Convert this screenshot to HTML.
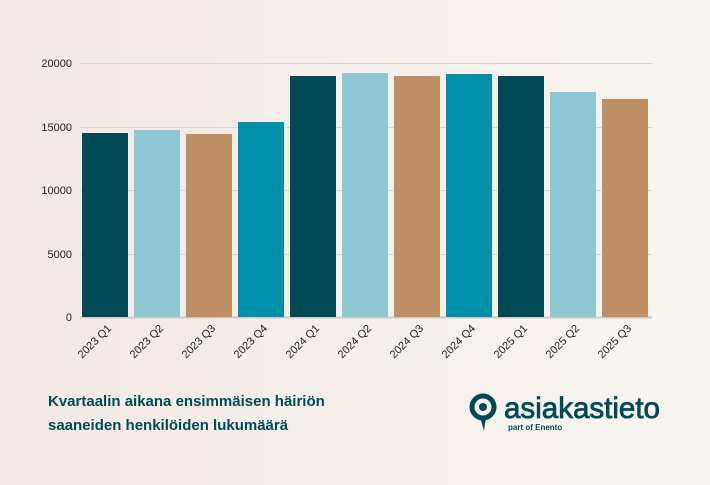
<!DOCTYPE html>
<html><head><meta charset="utf-8"><style>
body{margin:0;width:710px;height:480px;overflow:hidden;background:linear-gradient(90deg,#f4e9e5,#f8f5f1);font-family:"Liberation Sans",sans-serif}
</style></head><body>
<svg width="710" height="480" xmlns="http://www.w3.org/2000/svg" font-family="Liberation Sans, sans-serif">
<g stroke="#dcd6d2" stroke-width="1">
<line x1="80" x2="652" y1="63.5" y2="63.5"/><line x1="80" x2="652" y1="127.5" y2="127.5"/>
<line x1="80" x2="652" y1="190.5" y2="190.5"/><line x1="80" x2="652" y1="254.5" y2="254.5"/>
<line x1="80" x2="652" y1="317.5" y2="317.5" stroke="#cfc9c5" stroke-width="2"/>
</g>
<g font-size="11" fill="#222" text-anchor="end">
<text x="72" y="67">20000</text><text x="72" y="131">15000</text><text x="72" y="194">10000</text>
<text x="72" y="258">5000</text><text x="72" y="321">0</text>
</g>
<g>
<rect x="82" y="133" width="46" height="184" fill="#004a57"/>
<rect x="134" y="130" width="46" height="187" fill="#8fc8d5"/>
<rect x="186" y="134" width="46" height="183" fill="#be8f64"/>
<rect x="238" y="122" width="46" height="195" fill="#0090aa"/>
<rect x="290" y="76" width="46" height="241" fill="#004a57"/>
<rect x="342" y="73" width="46" height="244" fill="#8fc8d5"/>
<rect x="394" y="76" width="46" height="241" fill="#be8f64"/>
<rect x="446" y="74" width="46" height="243" fill="#0090aa"/>
<rect x="498" y="76" width="46" height="241" fill="#004a57"/>
<rect x="550" y="92" width="46" height="225" fill="#8fc8d5"/>
<rect x="602" y="99" width="46" height="218" fill="#be8f64"/>
</g>
<g font-size="11" fill="#222" text-anchor="end">
<text transform="translate(112,329) rotate(-45)">2023 Q1</text>
<text transform="translate(164,329) rotate(-45)">2023 Q2</text>
<text transform="translate(216,329) rotate(-45)">2023 Q3</text>
<text transform="translate(268,329) rotate(-45)">2023 Q4</text>
<text transform="translate(320,329) rotate(-45)">2024 Q1</text>
<text transform="translate(372,329) rotate(-45)">2024 Q2</text>
<text transform="translate(424,329) rotate(-45)">2024 Q3</text>
<text transform="translate(476,329) rotate(-45)">2024 Q4</text>
<text transform="translate(528,329) rotate(-45)">2025 Q1</text>
<text transform="translate(580,329) rotate(-45)">2025 Q2</text>
<text transform="translate(632,329) rotate(-45)">2025 Q3</text>
</g>
<g font-size="15" font-weight="bold" fill="#004a57">
<text x="48" y="406">Kvartaalin aikana ensimmäisen häiriön</text>
<text x="48" y="430">saaneiden henkilöiden lukumäärä</text>
</g>
<g fill="#004a57">
<circle cx="483" cy="407" r="11" fill="none" stroke="#004a57" stroke-width="5"/>
<circle cx="483" cy="407" r="4"/>
<path d="M480 417 L486 417 L484 431 Z"/>
<text x="504" y="418" font-size="30" stroke="#004a57" stroke-width="0.8" textLength="156" lengthAdjust="spacingAndGlyphs">asiakastieto</text>
<text x="508" y="430" font-size="8" font-weight="bold">part of Enento</text>
</g>
</svg>
</body></html>
